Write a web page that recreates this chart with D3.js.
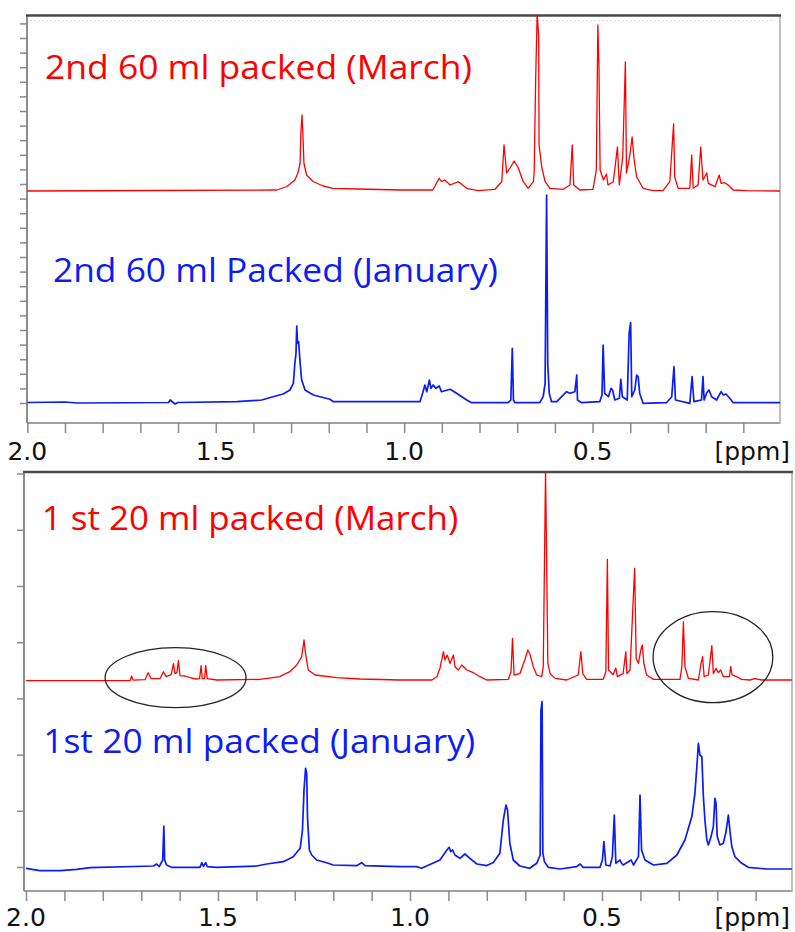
<!DOCTYPE html>
<html><head><meta charset="utf-8">
<script src="https://cdn.jsdelivr.net/npm/d3@7"></script>
<style>html,body{margin:0;padding:0;background:#fff;} svg{display:block;}</style>
</head><body>
<svg id="c" width="795" height="932"></svg>
<script>
// ---- data: [chemical shift (ppm), intensity (a.u.)] ----
const top_march = [[2.000,0],[1.665,0.5],[1.338,1],[1.311,4.5],[1.290,11],[1.282,18],[1.276,28],[1.274,59],[1.271,76],[1.268,50],[1.266,28],[1.259,16],[1.242,9.5],[1.215,5],[1.189,2.7],[1.123,2],[1.011,1],
[0.924,1],[0.907,12.7],[0.900,9.3],[0.892,11],[0.878,6],[0.856,9.3],[0.834,2.7],[0.804,0.3],[0.759,1.7],[0.741,9.3],[0.735,46],[0.732,34],[0.728,18],[0.719,23],[0.708,30],[0.697,23],[0.684,9.3],[0.671,2.7],[0.657,9.3],[0.655,19],[0.651,113],[0.647,178],[0.643,154],[0.642,46],[0.635,24],[0.626,9.3],[0.613,2.7],[0.578,1.7],[0.560,6],[0.554,46],[0.550,6],[0.534,1],[0.499,1.7],[0.490,21],[0.486,166],[0.483,122.7],[0.480,21],[0.471,11],[0.463,17],[0.459,6],[0.445,9.3],[0.434,44],[0.429,6],[0.420,34],[0.413,129],[0.410,18],[0.401,36],[0.395,54],[0.390,32],[0.383,14],[0.366,2.7],[0.339,0.3],[0.313,0.3],[0.295,9.3],[0.289,44],[0.285,67],[0.282,14],[0.273,2.7],[0.242,2.7],[0.237,36],[0.233,2.7],[0.220,6],[0.213,44],[0.207,11],[0.197,18],[0.193,7.7],[0.175,4.3],[0.164,16],[0.159,7.7],[0.149,8.3],[0.140,6],[0.127,1],[0.091,0.3],[0.000,0]];

const top_january = [[2.000,0.5],[1.900,1],[1.868,0],[1.625,0.5],[1.621,3],[1.608,-1],[1.600,0.5],[1.444,1.3],[1.378,3],[1.348,6.3],[1.321,9],[1.303,13],[1.294,19.7],[1.290,39.7],[1.287,49.7],[1.285,77],[1.283,59.7],[1.280,61.3],[1.276,39.7],[1.272,23],[1.263,13],[1.241,8],[1.197,3.7],[1.188,1.3],[1.011,1.3],
[0.958,1.3],[0.951,9.7],[0.945,18],[0.940,11.3],[0.933,23],[0.929,14.7],[0.923,18],[0.916,14.7],[0.907,17],[0.901,11.3],[0.878,13.7],[0.861,9.7],[0.834,3],[0.821,0.3],[0.724,0.3],[0.717,3],[0.713,54.7],[0.710,3],[0.706,0.3],[0.640,0.3],[0.631,6.3],[0.626,19.7],[0.622,208],[0.619,39.7],[0.615,9.7],[0.609,1.3],[0.595,1.3],[0.582,6.3],[0.569,11.3],[0.560,9.7],[0.547,11.3],[0.542,28],[0.540,3],[0.529,0.3],[0.481,1.3],[0.475,8],[0.472,58],[0.468,9.7],[0.458,6.3],[0.451,14.7],[0.447,13],[0.441,3],[0.429,4.7],[0.425,23.7],[0.421,6.3],[0.408,3],[0.403,69.7],[0.399,80.3],[0.396,6.3],[0.388,13],[0.383,28],[0.379,26.3],[0.375,9.7],[0.366,-0.3],[0.304,0.3],[0.290,6.3],[0.284,36.3],[0.280,3],[0.242,-0.3],[0.236,26.3],[0.231,1.3],[0.211,3],[0.207,26.3],[0.204,3],[0.197,10.3],[0.191,13],[0.184,6.3],[0.171,3],[0.159,11.3],[0.153,8],[0.146,9],[0.136,4.7],[0.127,0.3],[0.000,0.3]];

const bot_march = [[2.000,0],[1.729,0],[1.725,4.7],[1.721,0.5],[1.690,1],[1.682,8],[1.674,2],[1.651,2],[1.642,9],[1.635,4],[1.622,6],[1.616,17],[1.612,7],[1.607,8],[1.603,20],[1.599,5],[1.586,4.7],[1.573,3],[1.557,1.7],[1.548,2],[1.544,15],[1.541,2],[1.535,2],[1.532,15],[1.528,2],[1.503,0.7],[1.391,1.3],[1.339,4],[1.313,9],[1.295,15.7],[1.282,24],[1.276,40.7],[1.272,27],[1.265,10.7],[1.247,5.7],[1.191,3],[1.130,1.7],[1.026,0.7],
[0.943,0.7],[0.930,4],[0.922,12.3],[0.913,29],[0.909,20.7],[0.903,25.7],[0.896,17.3],[0.887,25.7],[0.883,14],[0.874,10.7],[0.865,15.7],[0.852,10.7],[0.835,8],[0.818,4],[0.800,0.7],[0.744,1.3],[0.737,9],[0.733,42.3],[0.729,5.7],[0.714,7],[0.701,20.7],[0.693,30.7],[0.688,27],[0.679,14],[0.670,5.7],[0.657,4],[0.653,14],[0.650,112],[0.647,210],[0.644,114],[0.641,17.3],[0.635,7],[0.622,2.3],[0.592,0.7],[0.562,5.7],[0.555,29],[0.550,7],[0.540,1.3],[0.497,1.3],[0.490,9],[0.486,121.3],[0.483,10.7],[0.471,6],[0.464,12.7],[0.460,4],[0.445,7],[0.438,29],[0.435,7],[0.427,10.7],[0.415,112.3],[0.411,22.3],[0.405,17.3],[0.399,30.7],[0.395,35.7],[0.391,17.3],[0.384,5.7],[0.366,1.3],[0.297,1.3],[0.292,14],[0.288,59],[0.284,14],[0.275,2.3],[0.249,0.7],[0.242,17.3],[0.238,24],[0.234,4],[0.223,5.7],[0.214,35],[0.210,7],[0.203,12.3],[0.197,8],[0.191,10.7],[0.184,4],[0.168,4],[0.165,14],[0.161,5.7],[0.149,4],[0.136,1.3],[0.115,0.7],[0.102,2],[0.084,0.7],[0.000,0.7]];

const bot_january = [[2.000,0],[1.964,-2.3],[1.911,-2.3],[1.868,-1],[1.833,0.7],[1.668,2.3],[1.660,4.3],[1.653,1.7],[1.644,8.3],[1.641,42.3],[1.639,8.3],[1.634,3.3],[1.621,1],[1.547,1],[1.542,5.6],[1.538,2],[1.532,5.6],[1.528,1.6],[1.503,1],[1.399,2.3],[1.373,4.3],[1.330,6.6],[1.304,11.6],[1.286,20],[1.280,38.3],[1.276,78.3],[1.272,100],[1.269,95],[1.267,51.6],[1.262,18.3],[1.256,13.3],[1.243,8.3],[1.217,5.6],[1.200,3.3],[1.139,2.6],[1.126,5.6],[1.117,2.6],[1.026,1.6],
[0.983,1.7],[0.970,0],[0.922,8.3],[0.904,18.3],[0.898,21],[0.894,16.7],[0.889,18.3],[0.883,13.3],[0.870,10],[0.857,14.3],[0.844,10],[0.826,4.3],[0.800,2.7],[0.783,5.7],[0.766,15],[0.757,48.3],[0.750,63.3],[0.746,58.3],[0.740,25],[0.731,8.3],[0.714,2.3],[0.688,0],[0.670,5],[0.661,13.3],[0.659,158],[0.656,166.6],[0.654,15],[0.650,6.7],[0.640,1],[0.609,-0.7],[0.566,1.7],[0.557,4.3],[0.549,1],[0.505,1],[0.499,8.3],[0.495,26.7],[0.490,3.3],[0.479,2.3],[0.473,11.7],[0.468,53.3],[0.464,5],[0.453,8.3],[0.449,5],[0.445,3.3],[0.424,8.3],[0.418,3.3],[0.405,11.7],[0.401,73.3],[0.397,18.3],[0.388,8.3],[0.366,3.3],[0.331,5],[0.305,13.3],[0.284,28.3],[0.266,51.7],[0.258,75],[0.253,101.7],[0.249,125],[0.245,113.3],[0.240,111.7],[0.236,71.7],[0.232,48.3],[0.227,28.3],[0.223,23.3],[0.216,31.7],[0.210,41.7],[0.206,70],[0.203,65],[0.200,31.7],[0.193,23.3],[0.184,25],[0.177,36.7],[0.171,53.3],[0.167,38.3],[0.162,21.7],[0.154,11.7],[0.136,5],[0.119,1],[0.071,-0.7],[0.000,-0.7]];

const xTickValues = [2.0,1.9,1.8,1.7,1.6,1.5,1.4,1.3,1.2,1.1,1.0,0.9,0.8,0.7,0.6,0.5,0.4,0.3,0.2,0.1];
const xLabelValues = [2.0,1.5,1.0,0.5];
const xLabelTexts = ["2.0","1.5","1.0","0.5"];
const unitLabel = "[ppm]";
const titles = ["2nd 60 ml packed (March)","2nd 60 ml Packed (January)","1 st 20 ml packed (March)","1st 20 ml packed (January)"];
// circled regions on the 1st 20 ml March trace: ppm span and intensity span
const circledFrom = [1.794, 0.367];
const circledTo = [1.427, 0.055];
const circledLow = [-27, -22];
const circledHigh = [33, 69];

// ---- drawing ----
const RED = "#ff0000", BLUE = "#0b1cf5";
const svg = d3.select("#c");
const defs = svg.append("defs");

const panels = [
  {range:[27.3,781], left:27, right:780, top:15.5, bottom:423, yTick0:403, yTickStep:14.6, yTickN:27, labelBase:460,
   spectra:[{data:top_march, base:191, color:RED, sw:1.3, title:titles[0], tx:45, ty:79, tw:427},
            {data:top_january, base:403, color:BLUE, sw:1.7, title:titles[1], tx:53, ty:282, tw:445}]},
  {range:[26,794], left:24, right:792, top:472, bottom:891, yTick0:867, yTickStep:56.2, yTickN:8, labelBase:926,
   spectra:[{data:bot_march, base:680.7, color:RED, sw:1.3, title:titles[2], tx:41.7, ty:530, tw:416.6, circles:true},
            {data:bot_january, base:868.3, color:BLUE, sw:1.7, title:titles[3], tx:43.3, ty:753.3, tw:432}]}
];

panels.forEach((p, i) => {
  const x = d3.scaleLinear().domain([2.0, 0.0]).range(p.range);
  const g = svg.append("g");
  const clipId = "clip" + i;
  defs.append("clipPath").attr("id", clipId).append("rect")
    .attr("x", p.left).attr("y", p.top - 1).attr("width", p.right - p.left).attr("height", p.bottom - p.top + 1);

  // faint dotted line under top frame
  if (i === 0) {
    g.append("line").attr("x1", p.left + 3).attr("x2", p.right - 5).attr("y1", p.top + 5).attr("y2", p.top + 5)
      .attr("stroke", "#d8d8d8").attr("stroke-width", 1).attr("stroke-dasharray", "2,2");
  }

  // left ticks
  const yT = d3.scaleLinear().domain([0, p.yTickN - 1]).range([p.yTick0, p.yTick0 - p.yTickStep * (p.yTickN - 1)]);
  const ga = g.append("g").attr("transform", `translate(${p.left},0)`)
    .call(d3.axisLeft(yT).tickValues(d3.range(p.yTickN)).tickSize(7).tickFormat(""));
  ga.select(".domain").remove();
  ga.selectAll("line").attr("stroke", "#8a8a8a").attr("stroke-width", 1.5);

  // bottom ticks
  const gx = g.append("g").attr("transform", `translate(0,${p.bottom})`)
    .call(d3.axisBottom(x).tickValues(xTickValues).tickSize(10).tickFormat(""));
  gx.select(".domain").remove();
  gx.selectAll("line").attr("stroke", "#8a8a8a").attr("stroke-width", 1.5);

  // frame
  g.append("line").attr("x1", p.left).attr("x2", p.left).attr("y1", p.top).attr("y2", p.bottom)
    .attr("stroke", "#808080").attr("stroke-width", 1.8);
  g.append("line").attr("x1", p.left).attr("x2", p.right).attr("y1", p.bottom).attr("y2", p.bottom)
    .attr("stroke", "#808080").attr("stroke-width", 1.6);
  g.append("line").attr("x1", p.right).attr("x2", p.right).attr("y1", p.top).attr("y2", p.bottom + 1)
    .attr("stroke", "#b0b0b0").attr("stroke-width", 1.6);
  g.append("line").attr("x1", p.left - 1).attr("x2", p.right + 1).attr("y1", p.top).attr("y2", p.top)
    .attr("stroke", "#4a4a4a").attr("stroke-width", 2.5);

  // x labels
  g.selectAll("text.xl").data(xLabelValues).enter().append("text").attr("class", "xl")
    .attr("x", d => x(d)).attr("y", p.labelBase).attr("text-anchor", "middle")
    .attr("font-family", "DejaVu Sans, Verdana, sans-serif").attr("font-size", 25).attr("fill", "#111")
    .text((d, k) => xLabelTexts[k]);
  g.append("text").attr("x", 790).attr("y", p.labelBase).attr("text-anchor", "end")
    .attr("font-family", "DejaVu Sans, Verdana, sans-serif").attr("font-size", 25).attr("fill", "#111")
    .text(unitLabel);

  // spectra
  p.spectra.forEach(s => {
    const y = d3.scaleLinear().domain([0, 100]).range([s.base, s.base - 100]);
    const line = d3.line().x(d => x(d[0])).y(d => y(d[1]));
    g.append("path").datum(s.data).attr("d", line).attr("fill", "none")
      .attr("stroke", s.color).attr("stroke-width", s.sw).attr("stroke-linejoin", "round")
      .attr("clip-path", `url(#${clipId})`);
    g.append("text").attr("x", s.tx).attr("y", s.ty)
      .attr("font-family", "Open Sans, sans-serif").attr("font-size", 33).attr("fill", s.color)
      .attr("textLength", s.tw).attr("lengthAdjust", "spacingAndGlyphs")
      .text(s.title);
    if (s.circles) {
      circledFrom.forEach((f, k) => {
        const x1 = x(f), x2 = x(circledTo[k]);
        const y1 = y(circledHigh[k]), y2 = y(circledLow[k]);
        g.append("ellipse").attr("cx", (x1 + x2) / 2).attr("cy", (y1 + y2) / 2)
          .attr("rx", (x2 - x1) / 2).attr("ry", (y2 - y1) / 2)
          .attr("fill", "none").attr("stroke", "#222").attr("stroke-width", 1.3);
      });
    }
  });
});
</script>
</body></html>
